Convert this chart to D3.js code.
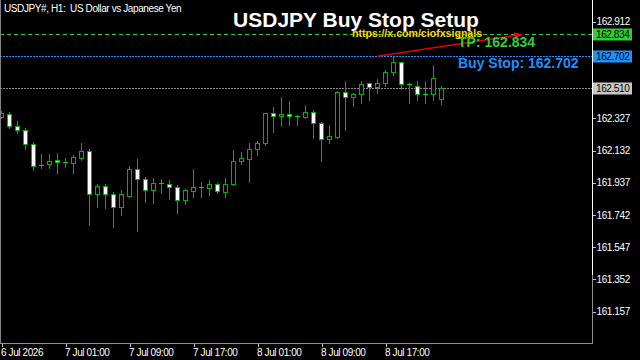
<!DOCTYPE html>
<html>
<head>
<meta charset="utf-8">
<script src="https://cdn.jsdelivr.net/npm/d3@7"></script>
<style>
  html, body { margin: 0; padding: 0; background: #000; overflow: hidden; }
</style>
</head>
<body>
<script>
// hourly USDJPY bars, 6 Jul 17:00 -> 9 Jul 00:00
const opens  = [162.335,162.353,162.280,162.256,162.172,162.040,162.050,162.075,162.063,162.057,162.087,162.129,161.869,161.917,161.869,161.790,161.857,162.020,161.960,161.893,161.936,161.930,161.911,161.833,161.887,161.911,161.905,161.930,161.881,161.930,162.069,162.081,162.141,162.178,162.359,162.341,162.353,162.341,162.335,162.365,162.299,162.202,162.214,162.486,162.456,162.474,162.541,162.516,162.541,162.607,162.668,162.535,162.522,162.474,162.474,162.444];
const highs  = [162.371,162.365,162.311,162.268,162.184,162.111,162.111,162.117,162.087,162.105,162.178,162.141,161.930,161.930,161.881,161.893,162.038,162.081,161.972,161.966,161.960,161.954,161.924,161.899,162.020,161.942,161.954,161.936,161.966,162.135,162.123,162.178,162.190,162.359,162.395,162.456,162.432,162.347,162.407,162.377,162.305,162.286,162.492,162.553,162.480,162.553,162.541,162.565,162.619,162.700,162.668,162.541,162.553,162.553,162.649,162.522];
const lows   = [162.329,162.268,162.238,162.141,162.014,162.026,162.026,161.996,162.032,161.996,162.075,161.681,161.790,161.784,161.669,161.742,161.851,161.645,161.821,161.815,161.875,161.839,161.754,161.809,161.851,161.851,161.863,161.875,161.851,161.924,162.050,161.942,162.105,162.165,162.244,162.280,162.286,162.286,162.329,162.208,162.069,162.178,162.208,162.256,162.401,162.420,162.438,162.480,162.522,162.589,162.504,162.420,162.438,162.420,162.438,162.413];
const closes = [162.359,162.280,162.256,162.172,162.038,162.044,162.069,162.063,162.065,162.093,162.129,161.869,161.917,161.869,161.790,161.869,162.020,161.960,161.893,161.936,161.938,161.911,161.833,161.893,161.911,161.913,161.930,161.887,161.930,162.069,162.087,162.141,162.178,162.359,162.341,162.353,162.341,162.343,162.365,162.299,162.202,162.220,162.486,162.456,162.474,162.535,162.516,162.541,162.607,162.668,162.535,162.537,162.474,162.476,162.571,162.510];

const priceTicks = [162.912,162.327,162.132,161.937,161.742,161.547,161.352,161.157];
const timeTickIdx = [0,8,16,24,32,40,48];
const timeLabels = ["6 Jul 2026","7 Jul 01:00","7 Jul 09:00","7 Jul 17:00","8 Jul 01:00","8 Jul 09:00","8 Jul 17:00"];

const tpPrice = 162.834, buyStopPrice = 162.702, bidPrice = 162.510;
const trendFrom = [47, 162.702], trendTo = [65, 162.834];

const width = 640, height = 360
const plotRight = 592.5, plotBottom = 343.5
const font = "'Liberation Sans', Arial, sans-serif"
const green = "#00b400"

const x = d3.scaleLinear().domain([0, 55]).range([1.5, 441.5])
const y = d3.scaleLinear().domain([161.157, 162.912]).range([311.7, 21.6])

const svg = d3.select("body").append("svg")
  .attr("width", width)
  .attr("height", height)
  .style("display", "block")
  .style("background", "#000")
  .style("font-family", font)

// horizontal levels
const levels = [
  {p: tpPrice, color: "#32cd32", dash: "4,3"},
  {p: buyStopPrice, color: "#1e90ff", dash: "2,1"},
  {p: bidPrice, color: "#8c8c8c", dash: "2,1"}
]
svg.append("g").selectAll("line")
  .data(levels)
  .enter().append("line")
    .attr("x1", 0).attr("x2", plotRight)
    .attr("y1", d => Math.round(y(d.p)) + 0.5)
    .attr("y2", d => Math.round(y(d.p)) + 0.5)
    .attr("stroke", d => d.color)
    .attr("stroke-dasharray", d => d.dash)
    .attr("shape-rendering", "crispEdges")

// candles
const bars = opens.map((o, i) => ({i, o, h: highs[i], l: lows[i], c: closes[i]}))
const gBars = svg.append("g").attr("shape-rendering", "crispEdges")

gBars.selectAll("line.wick")
  .data(bars)
  .enter().append("line")
    .attr("class", "wick")
    .attr("x1", d => x(d.i)).attr("x2", d => x(d.i))
    .attr("y1", d => Math.round(y(d.h)))
    .attr("y2", d => Math.round(y(d.l)) + 1)
    .attr("stroke", green)

gBars.selectAll("rect.body")
  .data(bars.filter(d => Math.abs(y(d.o) - y(d.c)) >= 1))
  .enter().append("rect")
    .attr("class", "body")
    .attr("x", d => x(d.i) - 2)
    .attr("width", 4)
    .attr("y", d => Math.round(Math.min(y(d.o), y(d.c))) + 0.5)
    .attr("height", d => Math.max(1, Math.round(Math.abs(y(d.o) - y(d.c)))))
    .attr("fill", d => d.c < d.o ? "#fff" : "#000")
    .attr("stroke", green)

gBars.selectAll("line.doji")
  .data(bars.filter(d => Math.abs(y(d.o) - y(d.c)) < 1))
  .enter().append("line")
    .attr("class", "doji")
    .attr("x1", d => x(d.i) - 2.5).attr("x2", d => x(d.i) + 2.5)
    .attr("y1", d => Math.round(y(d.c)) + 0.5)
    .attr("y2", d => Math.round(y(d.c)) + 0.5)
    .attr("stroke", "#00e000")

// trend arrow
svg.append("defs").append("marker")
  .attr("id", "arrow")
  .attr("markerUnits", "userSpaceOnUse")
  .attr("viewBox", "0 0 10 10")
  .attr("refX", 9).attr("refY", 5)
  .attr("markerWidth", 8).attr("markerHeight", 8)
  .attr("orient", "auto")
  .append("path").attr("d", "M0,1 L10,5 L0,9 Z").attr("fill", "#ff0000")

svg.append("line")
  .attr("x1", x(trendFrom[0])).attr("y1", y(trendFrom[1]))
  .attr("x2", x(trendTo[0])).attr("y2", y(trendTo[1]))
  .attr("stroke", "#e00000")
  .attr("stroke-width", 1.5)
  .attr("marker-end", "url(#arrow)")

// frame
svg.append("line").attr("x1", 0.5).attr("x2", 0.5).attr("y1", 0).attr("y2", plotBottom)
  .attr("stroke", "#808080").attr("shape-rendering", "crispEdges")
svg.append("line").attr("x1", plotRight).attr("x2", plotRight).attr("y1", 0).attr("y2", plotBottom)
  .attr("stroke", "#909090").attr("shape-rendering", "crispEdges")
svg.append("line").attr("x1", plotRight).attr("x2", plotRight).attr("y1", 0).attr("y2", 275)
  .attr("stroke", "#fff").attr("shape-rendering", "crispEdges")
svg.append("line").attr("x1", 0).attr("x2", plotRight + 0.5).attr("y1", plotBottom).attr("y2", plotBottom)
  .attr("stroke", "#909090").attr("shape-rendering", "crispEdges")

// price axis
const yAxis = g => g
  .attr("transform", `translate(${plotRight},0)`)
  .call(d3.axisRight(y).tickValues(priceTicks).tickSize(3).tickPadding(1).tickFormat(d3.format(".3f")))
  .call(g => g.select(".domain").remove())
  .call(g => g.selectAll(".tick line").attr("stroke", "#c0c0c0").attr("shape-rendering", "crispEdges"))
  .call(g => g.selectAll(".tick text")
      .attr("fill", "#fff")
      .attr("font-size", "10px")
      .attr("font-family", font)
      .attr("letter-spacing", "-0.4px"))
svg.append("g").call(yAxis)

// time axis
const xAxis = g => g
  .attr("transform", `translate(0,${plotBottom})`)
  .call(d3.axisBottom(x).tickValues(timeTickIdx).tickSize(3).tickPadding(2).tickFormat((d, i) => timeLabels[i]))
  .call(g => g.select(".domain").remove())
  .call(g => g.selectAll(".tick line").attr("stroke", "#c0c0c0").attr("shape-rendering", "crispEdges"))
  .call(g => g.selectAll(".tick text")
      .attr("fill", "#fff")
      .attr("text-anchor", "start")
      .attr("x", -1)
      .attr("font-size", "10px")
      .attr("font-family", font)
      .attr("letter-spacing", "-0.4px"))
svg.append("g").call(xAxis)

// price tags on the right
const tags = [
  {p: tpPrice, bg: "#32cd32"},
  {p: buyStopPrice, bg: "#1e90ff"},
  {p: bidPrice, bg: "#c8c8c8"}
]
const gTags = svg.append("g")
gTags.selectAll("rect")
  .data(tags)
  .enter().append("rect")
    .attr("x", 593).attr("width", 39)
    .attr("y", d => Math.round(y(d.p)) - 5.5)
    .attr("height", 12)
    .attr("fill", d => d.bg)
gTags.selectAll("text")
  .data(tags)
  .enter().append("text")
    .attr("x", 596)
    .attr("y", d => Math.round(y(d.p)) + 4)
    .attr("fill", "#000")
    .attr("font-size", "10px")
    .attr("letter-spacing", "-0.4px")
    .text(d => d.p.toFixed(3))

// annotations
svg.append("text")
  .attr("x", 458).attr("y", 47)
  .attr("fill", "#32cd32").attr("font-size", "14px").attr("font-weight", "bold")
  .text(`TP: ${tpPrice.toFixed(3)}`)
svg.append("text")
  .attr("x", 458).attr("y", 68)
  .attr("fill", "#1e90ff").attr("font-size", "14px").attr("font-weight", "bold")
  .text(`Buy Stop: ${buyStopPrice.toFixed(3)}`)
svg.append("text")
  .attr("x", 352).attr("y", 37)
  .attr("fill", "#ffd700").attr("font-size", "10.6px").attr("font-weight", "bold")
  .text("https://x.com/ciofxsignals")
svg.append("text")
  .attr("x", 356).attr("y", 27)
  .attr("text-anchor", "middle")
  .attr("fill", "#fff").attr("font-size", "21px").attr("font-weight", "bold")
  .text("USDJPY Buy Stop Setup")

svg.append("text")
  .attr("x", 4).attr("y", 12)
  .attr("fill", "#fff").attr("font-size", "10px")
  .attr("letter-spacing", "-0.4px")
  .style("white-space", "pre")
  .text("USDJPY#, H1:  US Dollar vs Japanese Yen")
</script>
</body>
</html>
